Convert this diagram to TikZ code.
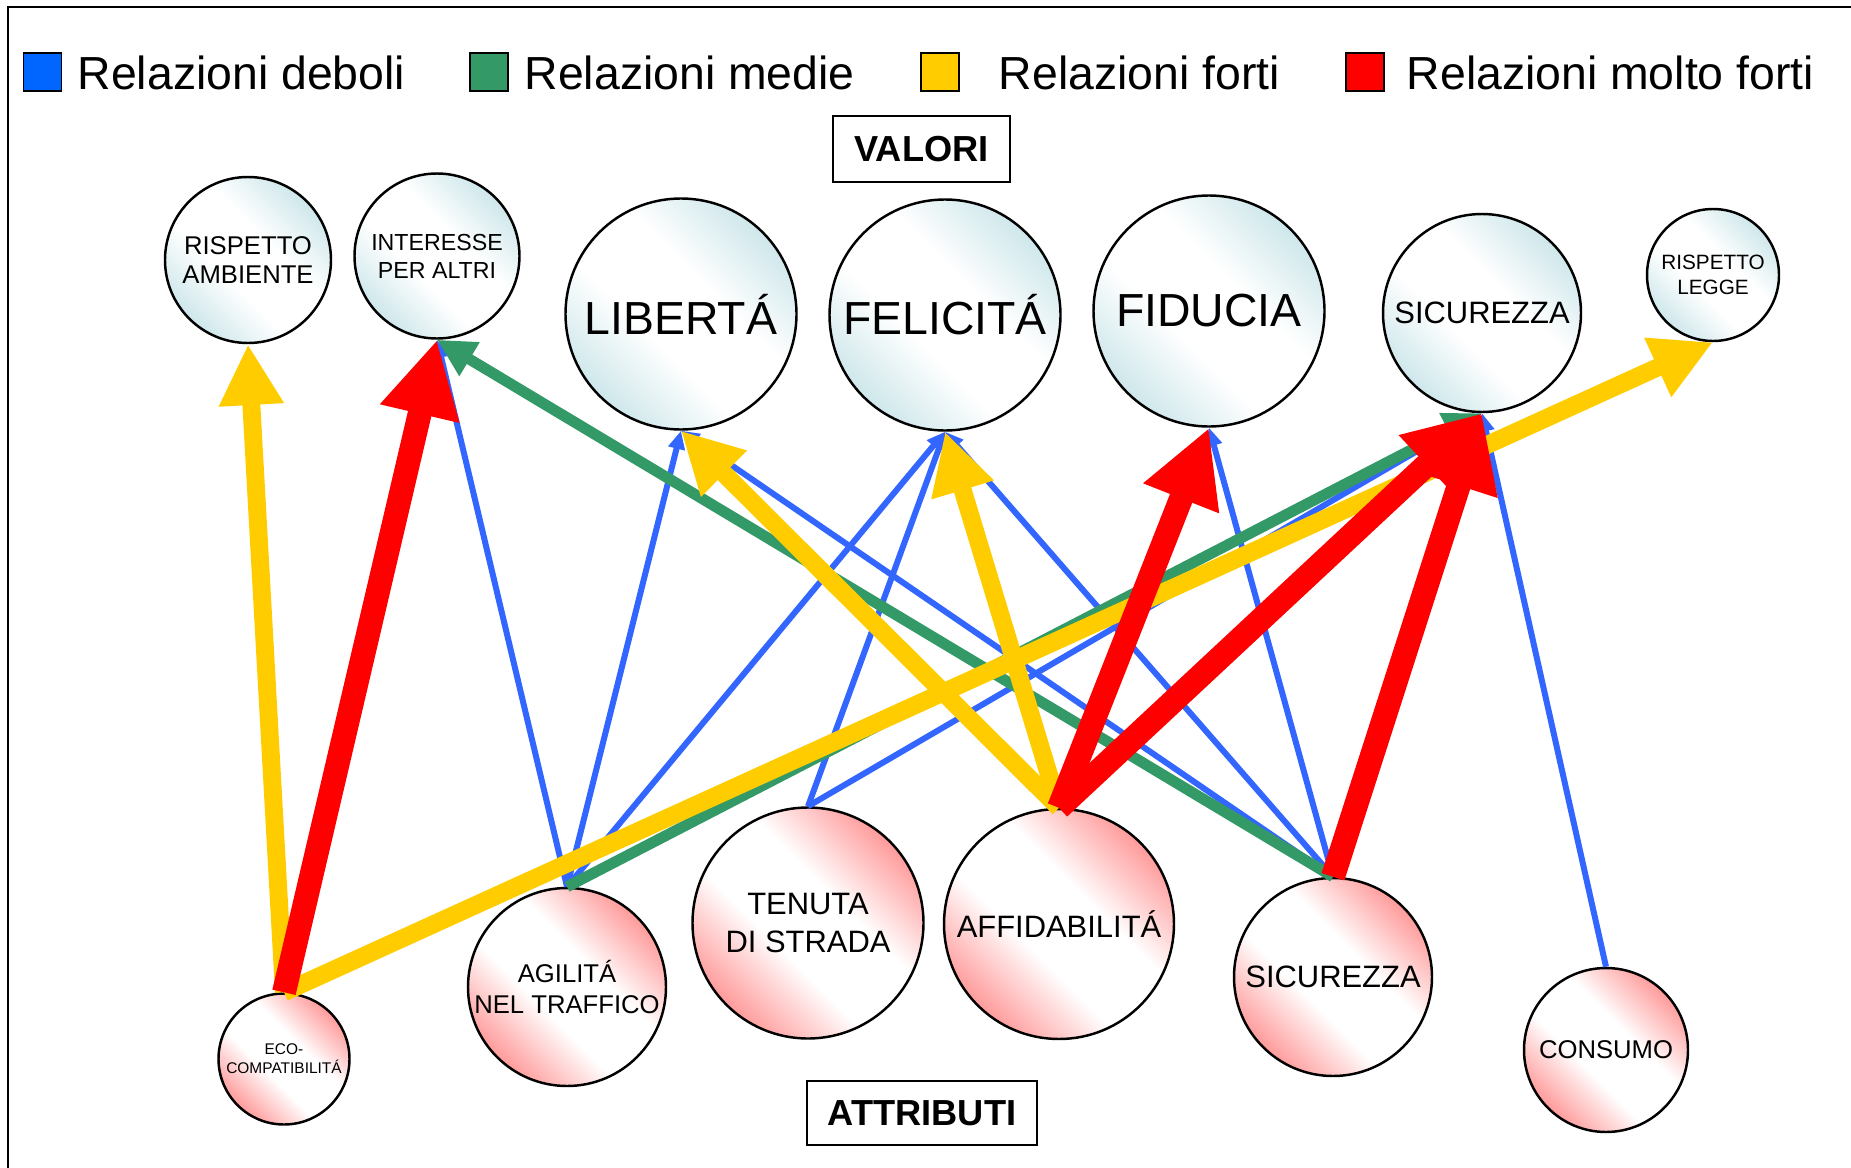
\documentclass[tikz,border=0pt]{standalone}
\usepackage{fontspec}
\setmainfont{Liberation Sans}
\usepackage{xcolor}
\usepackage{tikz}
\usetikzlibrary{arrows.meta}

\definecolor{valcol}{RGB}{192,224,229}
\definecolor{attcol}{RGB}{255,125,125}
\definecolor{debolecol}{RGB}{51,102,255}
\definecolor{mediacol}{RGB}{51,153,102}
\definecolor{fortecol}{RGB}{255,204,0}
\definecolor{moltofortecol}{RGB}{255,0,0}
\definecolor{legblu}{RGB}{0,102,255}

\newcommand{\fs}[2]{\fontsize{#1}{#2}\selectfont}

% diagonal sheen: colour at two corners, broad white band in the middle
\pgfdeclareverticalshading{valsh}{100bp}{color(0bp)=(valcol); color(20bp)=(valcol);
  color(42bp)=(white); color(58bp)=(white); color(80bp)=(valcol); color(100bp)=(valcol)}
\pgfdeclareverticalshading{attsh}{100bp}{color(0bp)=(attcol); color(20bp)=(attcol);
  color(42bp)=(white); color(58bp)=(white); color(80bp)=(attcol); color(100bp)=(attcol)}

\tikzset{
  valore/.style={circle, draw, line width=0.7pt, inner sep=0pt, align=center,
    shading=valsh, shading angle=-45},
  attributo/.style={circle, draw, line width=0.7pt, inner sep=0pt, align=center,
    shading=attsh, shading angle=-45},
  titolo/.style={draw, line width=0.7pt, inner sep=0pt, font=\bfseries\fs{10.3}{12}},
  legbox/.style={draw, line width=0.5pt, minimum size=3.8mm, inner sep=0pt},
  legtext/.style={anchor=base west, inner sep=0pt, font=\fs{13.2}{15}},
  debole/.style={draw=debolecol, line width=1.7pt, -{Triangle[length=5.2pt, width=4.6pt]}},
  media/.style={draw=mediacol, line width=3.1pt, -{Triangle[length=10.8pt, width=10.5pt]}},
  forte/.style={draw=fortecol, line width=5.1pt, -{Triangle[length=17.3pt, width=17.3pt]}},
  moltoforte/.style={draw=moltofortecol, line width=6.8pt, -{Triangle[length=21.6pt, width=21.6pt]}},
}

\begin{document}
\begin{tikzpicture}[x=0.1mm, y=-0.1mm]
  \useasboundingbox (0,0) rectangle (1851,1168);

  % frame
  \draw[line width=0.8pt] (8,1168) -- (8,7) -- (1851,7);

  % ========== Legend ==========
  \node[legbox, fill=legblu] (qDeboli) at (42.5,72) {};
  \node[legtext] (tDeboli) at (77,90) {Relazioni deboli};
  \node[legbox, fill=mediacol] (qMedie) at (489,72) {};
  \node[legtext] (tMedie) at (524,90) {Relazioni medie};
  \node[legbox, fill=fortecol] (qForti) at (940,72) {};
  \node[legtext] (tForti) at (998,90) {Relazioni forti};
  \node[legbox, fill=moltofortecol] (qMoltoForti) at (1365,72) {};
  \node[legtext] (tMoltoForti) at (1406,90) {Relazioni molto forti};

  % ========== Titles ==========
  \node[titolo, minimum width=17.7mm, minimum height=6.6mm] (valori) at (921.5,149) {VALORI};
  \node[titolo, minimum width=23mm, minimum height=6.4mm] (attributi) at (922,1113) {ATTRIBUTI};

  % ========== Valori ==========
  \node[valore, minimum size=16.6mm, font=\fs{7.3}{8.5}] (rispAmb) at (248,260) {RISPETTO\\AMBIENTE};
  \node[valore, minimum size=16.5mm, font=\fs{6.6}{8}] (interesse) at (437,256) {INTERESSE\\PER ALTRI};
  \node[valore, minimum size=23.1mm, font=\fs{13.2}{15}] (liberta) at (681,314) {LIBERTÁ};
  \node[valore, minimum size=23.1mm, font=\fs{13.2}{15}] (felicita) at (945,315) {FELICITÁ};
  \node[valore, minimum size=23.1mm, font=\fs{13.2}{15}] (fiducia) at (1209,311) {FIDUCIA};
  \node[valore, minimum size=19.8mm, font=\fs{8.8}{10.7}] (sicTop) at (1482,313) {SICUREZZA};
  \node[valore, minimum size=13.2mm, font=\fs{5.9}{7.1}] (legge) at (1713,275) {RISPETTO\\LEGGE};

  % ========== Attributi ==========
  \node[attributo, minimum size=13.1mm, font=\fs{4.4}{5.4}] (eco) at (284,1059) {ECO-\\COMPATIBILITÁ};
  \node[attributo, minimum size=19.8mm, font=\fs{7.3}{8.7}] (agilita) at (567,987) {AGILITÁ\\NEL TRAFFICO};
  \node[attributo, minimum size=23.1mm, font=\fs{8.8}{10.7}] (tenuta) at (808,923) {TENUTA\\DI STRADA};
  \node[attributo, minimum size=23mm, font=\fs{8.8}{10.7}] (affid) at (1059,924) {AFFIDABILITÁ};
  \node[attributo, minimum size=19.8mm, font=\fs{8.8}{10.7}] (sicBot) at (1333,977) {SICUREZZA};
  \node[attributo, minimum size=16.4mm, font=\fs{7.3}{8.5}] (consumo) at (1606,1050) {CONSUMO};

  % ========== Relazioni ==========
  % deboli
  \draw[debole] (agilita.north) -- (interesse.south);
  \draw[debole] (agilita.north) -- (liberta.south);
  \draw[debole] (agilita.north) -- (felicita.south);
  \draw[debole] (tenuta.north) -- (felicita.south);
  \draw[debole] (tenuta.north) -- (sicTop.south);
  \draw[debole] (sicBot.north) -- (liberta.south);
  \draw[debole] (sicBot.north) -- (felicita.south);
  \draw[debole] (sicBot.north) -- (fiducia.south);
  \draw[debole] (consumo.north) -- (sicTop.south);
  % medie
  \draw[media] (sicBot.north) -- (interesse.south);
  \draw[media] (agilita.north) -- (sicTop.south);
  % forti
  \draw[forte] (eco.north) -- (rispAmb.south);
  \draw[forte] (eco.north) -- (legge.south);
  \draw[forte] (affid.north) -- (liberta.south);
  \draw[forte] (affid.north) -- (felicita.south);
  % molto forti
  \draw[moltoforte] (eco.north) -- (interesse.south);
  \draw[moltoforte] (affid.north) -- (fiducia.south);
  \draw[moltoforte] (affid.north) -- (sicTop.south);
  \draw[moltoforte] (sicBot.north) -- (sicTop.south);

\end{tikzpicture}
\end{document}
